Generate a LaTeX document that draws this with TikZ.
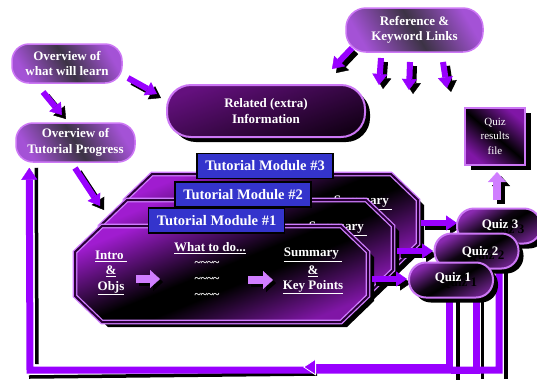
\documentclass[tikz,border=0pt]{standalone}
\usepackage{fontspec}
\setmainfont{Liberation Serif}
\usetikzlibrary{arrows.meta,shadows,backgrounds}
\definecolor{vio}{HTML}{9900FF}
\definecolor{lvio}{HTML}{D07EFF}
\definecolor{edgec}{HTML}{CC77F5}
\definecolor{pillA}{HTML}{A452D6}
\definecolor{pillB}{HTML}{3C3345}
\definecolor{darkA}{HTML}{64107E}
\definecolor{darkB}{HTML}{140018}
\definecolor{octA}{HTML}{A01CD0}
\definecolor{quizA}{HTML}{8A2AB0}
\definecolor{modblue}{HTML}{3434CC}
\definecolor{gapc}{HTML}{2A0038}

\pgfdeclareverticalshading{octsh}{100bp}{color(0bp)=(octA!80!black); color(25bp)=(octA!80!black);
  color(45bp)=(black); color(52bp)=(black); color(75bp)=(octA); color(100bp)=(octA)}
\pgfdeclareverticalshading{quizsh}{100bp}{color(0bp)=(quizA!75!black); color(25bp)=(quizA!75!black);
  color(48bp)=(black); color(55bp)=(black!90!quizA); color(75bp)=(quizA); color(100bp)=(quizA)}

\tikzset{
  txt/.style={text=white, align=center, inner sep=0pt, font=\bfseries\fontsize{13}{15.5}\selectfont},
  lightpill/.style={txt, rectangle, rounded corners=17pt, draw=edgec, line width=1.5pt,
    left color=pillA, right color=pillA, middle color=pillB, shading angle=120},
  relpill/.style={txt, rectangle, rounded corners=24pt, draw=edgec, line width=2pt,
    top color=darkA, bottom color=darkB, shading angle=20,
    drop shadow={shadow xshift=5pt, shadow yshift=-5pt, opacity=1, fill=black}},
  quizpill/.style={rectangle, rounded corners=17pt, draw=edgec, line width=2pt,
    minimum width=84pt, minimum height=35pt, inner sep=0pt,
    shading=quizsh, shading angle=30,
    drop shadow={shadow xshift=5pt, shadow yshift=-5pt, opacity=1, fill=black}},
  quiztxt/.style={txt, font=\bfseries\fontsize{13}{15}\selectfont},
  filebox/.style={rectangle, draw=edgec, line width=2pt, minimum width=60pt, minimum height=57pt,
    inner sep=0pt, text=white, align=center, font=\fontsize{11}{14.5}\selectfont,
    top color=octA!80!black, bottom color=octA!80!black, middle color=black, shading angle=-40,
    drop shadow={shadow xshift=6pt, shadow yshift=-5pt, opacity=1, fill=black}},
  modlab/.style={rectangle, fill=modblue, draw=black, line width=1.2pt, text=white,
    font=\bfseries\fontsize{14.5}{17}\selectfont, minimum width=136pt, minimum height=25pt, inner sep=0pt},
  octfill/.style={shading=octsh, shading angle=22},
  octedge/.style={draw=lvio, double=gapc, double distance=2pt, line width=1.3pt},
  ulab/.style={txt},
  tild/.style={txt, font=\bfseries\fontsize{12}{12}\selectfont},
  arrv/.style={vio, line width=6pt, -{Triangle[width=15pt,length=11pt,line width=0.4pt]}},
  arrk/.style={black, line width=6pt, -{Triangle[width=15pt,length=11pt,line width=0.4pt]}},
  arrl/.style={lvio, line width=8pt, -{Triangle[width=18pt,length=10pt,line width=0.4pt]}},
  arrlk/.style={black, line width=8pt, -{Triangle[width=18pt,length=10pt,line width=0.4pt]}},
  fb/.style={vio, line width=7pt},
  fbsh/.style={black, line width=3.5pt},
}
\newcommand\shadarrow[4]{%
  \draw[#2] ([shift={(4,4)}]#3) -- ([shift={(4,4)}]#4);
  \draw[#1] (#3) -- (#4);}
% octagon body, shifted by (#1,#2); #3 = suffix for node names
\newcommand\octbody[3]{%
\begin{scope}[shift={(#1,#2)}]
  \fill[black] (108,231) -- (347,231) -- (374,257) -- (374,301) -- (347,327) -- (108,327) -- (81,301) -- (81,257) -- cycle;
  \shade[octfill] (102,226) -- (341,226) -- (368,252) -- (368,296) -- (341,322) -- (102,322) -- (75,296) -- (75,252) -- cycle;
  \draw[octedge] (102,226) -- (341,226) -- (368,252) -- (368,296) -- (341,322) -- (102,322) -- (75,296) -- (75,252) -- cycle;
  \node[ulab] (summ#3) at (313,255) {\underline{Summary }};
\end{scope}}

\begin{document}
\begin{tikzpicture}[x=1pt,y=-1pt]
\useasboundingbox (0,0) rectangle (537,381);

% modules
\octbody{50}{-52}{3}
\node[modlab] (m3) at (265,166) {Tutorial Module \#3};
\octbody{25}{-26}{2}
\node[modlab] (m2) at (243,194.5) {Tutorial Module \#2};
\octbody{0}{0}{1}
\node[ulab] (amp1) at (313,271) {\underline{\&}};
\node[ulab] (key1) at (313,287) {\underline{Key Points}};
\node[ulab] (intro1) at (111,273) {\underline{Intro }\\\underline{\&}\\\underline{Objs}};
\node[ulab] (what1) at (210,248) {\underline{What to do...}};
\node[tild] (ta1) at (207,264) {\textasciitilde\textasciitilde\textasciitilde\textasciitilde};
\node[tild] (tb1) at (207,280) {\textasciitilde\textasciitilde\textasciitilde\textasciitilde};
\node[tild] (tc1) at (207,296) {\textasciitilde\textasciitilde\textasciitilde\textasciitilde};
\coordinate (la1) at (136,279); \coordinate (lb1) at (160,279);
\coordinate (lc1) at (248,280); \coordinate (ld1) at (273,280);
\draw[arrlk] ([shift={(3,3)}]la1) -- ([shift={(3,3)}]lb1);
\draw[arrl] (la1) -- (lb1);
\draw[arrlk] ([shift={(3,3)}]lc1) -- ([shift={(3,3)}]ld1);
\draw[arrl] (lc1) -- (ld1);
\node[modlab] (m1) at (216.5,220.5) {Tutorial Module \#1};

% arrows into quizzes
\coordinate (b1s) at (372,279); \coordinate (b1e) at (407,279);
\coordinate (b2s) at (397,251); \coordinate (b2e) at (433,251);
\coordinate (b3s) at (421,223); \coordinate (b3e) at (457,223);
\shadarrow{arrv}{arrk}{b1s}{b1e}
\shadarrow{arrv}{arrk}{b2s}{b2e}
\shadarrow{arrv}{arrk}{b3s}{b3e}

% quizzes
\node[quizpill] (q3) at (499,226) {};
\node[quiztxt, text=black] (q3s) at (506,230) {Quiz 3};
\node[quiztxt] (q3t) at (500,225) {Quiz 3};
\node[quizpill] (q2) at (476.5,251) {};
\node[quiztxt, text=black] (q2s) at (486,256) {Quiz 2};
\node[quiztxt] (q2t) at (480,252) {Quiz 2};
\node[quizpill] (q1) at (451,280) {};
\node[quiztxt, text=black] (q1s) at (459,283) {Quiz 1};
\node[quiztxt] (q1t) at (453,278) {Quiz 1};

% other boxes
\node[lightpill, minimum width=110pt, minimum height=39pt] (ovwhat) at (67,63.5) {Overview of\\what will learn};
\node[lightpill, minimum width=119pt, minimum height=39pt] (ovprog) at (75.5,142.5) {Overview of\\Tutorial Progress};
\node[relpill, minimum width=198pt, minimum height=52pt] (related) at (266,111) {Related (extra)\\Information};
\node[lightpill, minimum width=137pt, minimum height=44pt, rounded corners=20pt] (refs) at (414.5,30) {Reference \&\\Keyword Links};
\node[filebox] (qfile) at (495,136) {Quiz\\results\\file};

% feedback lines
\coordinate (blc) at (30,370);
\coordinate (lttip) at ([shift={(14,5)}]ovprog.south west);
\coordinate (fbtip) at (303,367);
\begin{scope}[on background layer]
  \draw[fbsh] ([xshift=7pt]q1.center) -- ++(0,100);
  \draw[fbsh] ([xshift=6pt]q2.center) -- ++(0,128);
  \draw[fbsh] ([xshift=7pt]q3.center) -- ++(0,153);
  \draw[fbsh] ([shift={(7,0)}]lttip) -- ([shift={(7,-6)}]blc);
  \draw[fbsh] ([shift={(-1,7)}]blc) -- ([shift={(14,7)}]fbtip);
  \draw[fb] (q2.center) |- (q1.center |- blc);
  \draw[fb, -{Triangle[width=16pt,length=12pt,line width=0.4pt]}] (q3.center) |- (blc) -- (lttip);
  \draw[fb, -{Triangle[width=17pt,length=13pt,line width=0.8pt,color=white,fill=vio]}] ([xshift=-2pt]q1.center) |- (fbtip);
\end{scope}

% loose arrows
\coordinate (a1s) at (128,78);  \coordinate (a1e) at (157,94);
\coordinate (a2s) at (43,92);   \coordinate (a2e) at (62,115);
\coordinate (a3s) at (75,168);  \coordinate (a3e) at (100,206);
\coordinate (a4s) at (352,48);  \coordinate (a4e) at (332,69);
\coordinate (a5s) at (381,58);  \coordinate (a5e) at (379,85);
\coordinate (a6s) at (410,62);  \coordinate (a6e) at (409,90);
\coordinate (a7s) at (443,62);  \coordinate (a7e) at (447,88);
\coordinate (a8s) at (497,200); \coordinate (a8e) at (497,172);
\shadarrow{arrv}{arrk}{a1s}{a1e}
\shadarrow{arrv}{arrk}{a2s}{a2e}
\shadarrow{arrv}{arrk}{a3s}{a3e}
\shadarrow{arrv}{arrk}{a4s}{a4e}
\shadarrow{arrv}{arrk}{a5s}{a5e}
\shadarrow{arrv}{arrk}{a6s}{a6e}
\shadarrow{arrv}{arrk}{a7s}{a7e}
\shadarrow{arrl}{arrlk}{a8s}{a8e}
\end{tikzpicture}
\end{document}
